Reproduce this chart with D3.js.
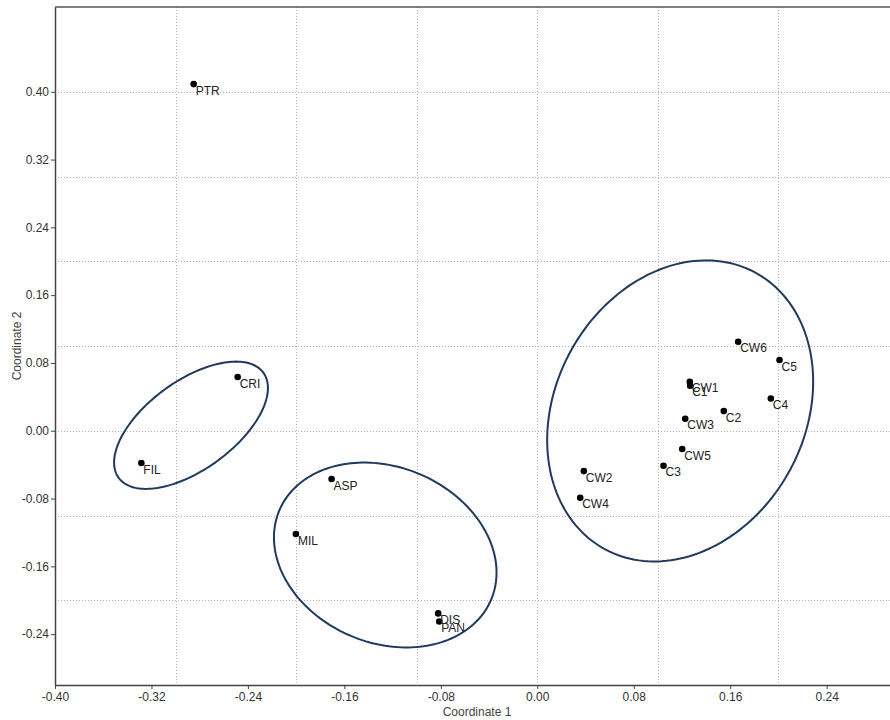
<!DOCTYPE html>
<html>
<head>
<meta charset="utf-8">
<script src="https://cdn.jsdelivr.net/npm/d3@7"></script>
<style>
  html, body { margin: 0; padding: 0; background: #fff; overflow: hidden; }
  svg { display: block; font-family: "Liberation Sans", Arial, sans-serif; }
</style>
</head>
<body>
<svg id="chart" width="890" height="720"></svg>
<script>
// Ordination scores (Coordinate 1, Coordinate 2) for each sample
const sampleLabels = ["PTR", "CRI", "FIL", "ASP", "MIL", "DIS", "PAN",
  "CW6", "C5", "CW1", "C1", "C4", "C2", "CW3", "CW5", "C3", "CW2", "CW4"];
const coord1 = [-0.285, -0.2485, -0.3284, -0.1706, -0.2002, -0.0822, -0.0813,
  0.1666, 0.2009, 0.1265, 0.1268, 0.1937, 0.1547, 0.1227, 0.1202, 0.1047, 0.0386, 0.0356];
const coord2 = [0.409, 0.0634, -0.0381, -0.0570, -0.1219, -0.2155, -0.2250,
  0.1050, 0.0834, 0.0578, 0.0531, 0.0381, 0.0232, 0.0142, -0.0216, -0.0413, -0.0476, -0.0791];

// Group ellipses: centre, half-extent along each axis, and x/y correlation
const ellipseCx = [-0.2872, -0.1261, 0.1185];
const ellipseCy = [0.0065, -0.1466, 0.0234];
const ellipseRx = [0.0638, 0.0923, 0.1103];
const ellipseRy = [0.0751, 0.1091, 0.1776];
const ellipseCorr = [0.585, -0.19, 0.194];

// Axis ticks and grid positions
const xTicks = [-0.40, -0.32, -0.24, -0.16, -0.08, 0.00, 0.08, 0.16, 0.24];
const yTicks = [-0.24, -0.16, -0.08, 0.00, 0.08, 0.16, 0.24, 0.32, 0.40];
const xGrid = [-0.3, -0.2, -0.1, 0.0, 0.1, 0.2];
const yGrid = [-0.2, -0.1, 0.0, 0.1, 0.2, 0.3, 0.4];
const xDomain = [-0.40, 0.30];
const yDomain = [-0.30, 0.50];

const svg = d3.select("#chart");
const margin = { left: 55, top: 7, right: 899, bottom: 685 };

const x = d3.scaleLinear().domain(xDomain).range([margin.left, margin.right]);
const y = d3.scaleLinear().domain(yDomain).range([margin.bottom, margin.top]);
const fmt = v => (Math.abs(v) < 1e-9 ? 0 : v).toFixed(2);

// dotted grid
const grid = svg.append("g")
  .attr("stroke", "#b4b4b4").attr("stroke-width", 1)
  .attr("stroke-dasharray", "1,2");
grid.selectAll("line.v").data(xGrid).join("line").attr("class", "v")
  .attr("x1", d => Math.round(x(d)) + 0.5).attr("x2", d => Math.round(x(d)) + 0.5)
  .attr("y1", margin.top).attr("y2", margin.bottom);
grid.selectAll("line.h").data(yGrid).join("line").attr("class", "h")
  .attr("y1", d => Math.round(y(d)) + 0.5).attr("y2", d => Math.round(y(d)) + 0.5)
  .attr("x1", margin.left).attr("x2", margin.right);

// frame
svg.append("line")
  .attr("x1", margin.left).attr("x2", margin.right)
  .attr("y1", margin.top).attr("y2", margin.top)
  .attr("stroke", "#555").attr("stroke-width", 1.5);
svg.append("line")
  .attr("x1", margin.right).attr("x2", margin.right)
  .attr("y1", margin.top).attr("y2", margin.bottom)
  .attr("stroke", "#555").attr("stroke-width", 1.5);

// axes
const xAxis = svg.append("g")
  .attr("transform", `translate(0,${margin.bottom})`)
  .call(d3.axisBottom(x).tickValues(xTicks).tickFormat(fmt).tickSize(4).tickPadding(3).tickSizeOuter(0));
const yAxis = svg.append("g")
  .attr("transform", `translate(${margin.left},0)`)
  .call(d3.axisLeft(y).tickValues(yTicks).tickFormat(fmt).tickSize(4).tickPadding(2).tickSizeOuter(0));
[xAxis, yAxis].forEach(g => {
  g.select(".domain").attr("stroke", "#444").attr("stroke-width", 1.5);
  g.selectAll(".tick line").attr("stroke", "#444");
  g.selectAll(".tick text").attr("fill", "#333").style("font-size", "12px")
    .style("font-family", "'Liberation Sans', Arial, sans-serif");
});

svg.append("text")
  .attr("x", (margin.left + margin.right) / 2).attr("y", 716)
  .attr("text-anchor", "middle").attr("fill", "#444").style("font-size", "12px")
  .text("Coordinate 1");
svg.append("text")
  .attr("transform", `translate(21,${(margin.top + margin.bottom) / 2}) rotate(-90)`)
  .attr("text-anchor", "middle").attr("fill", "#444").style("font-size", "12px")
  .text("Coordinate 2");

// group ellipses
const ellipses = ellipseCx.map((cx, i) => ({
  cx, cy: ellipseCy[i], rx: ellipseRx[i], ry: ellipseRy[i], r: ellipseCorr[i]
}));
const ellipseLine = d3.line().curve(d3.curveLinearClosed);
svg.append("g").selectAll("path").data(ellipses).join("path")
  .attr("fill", "none").attr("stroke", "#1f3a5e").attr("stroke-width", 2)
  .attr("d", e => {
    const pts = d3.range(0, 360, 2).map(deg => {
      const t = deg * Math.PI / 180;
      const dx = e.rx * Math.cos(t);
      const dy = e.ry * (e.r * Math.cos(t) + Math.sqrt(1 - e.r * e.r) * Math.sin(t));
      return [x(e.cx + dx), y(e.cy + dy)];
    });
    return ellipseLine(pts);
  });

// samples
const samples = sampleLabels.map((name, i) => ({ name, c1: coord1[i], c2: coord2[i] }));
const pts = svg.append("g");
pts.selectAll("circle").data(samples).join("circle")
  .attr("cx", d => x(d.c1)).attr("cy", d => y(d.c2)).attr("r", 3.3).attr("fill", "#000");
pts.selectAll("text").data(samples).join("text")
  .attr("x", d => x(d.c1) + 2).attr("y", d => y(d.c2) + 10.5)
  .attr("fill", "#222").style("font-size", "12px")
  .text(d => d.name);
</script>
</body>
</html>
